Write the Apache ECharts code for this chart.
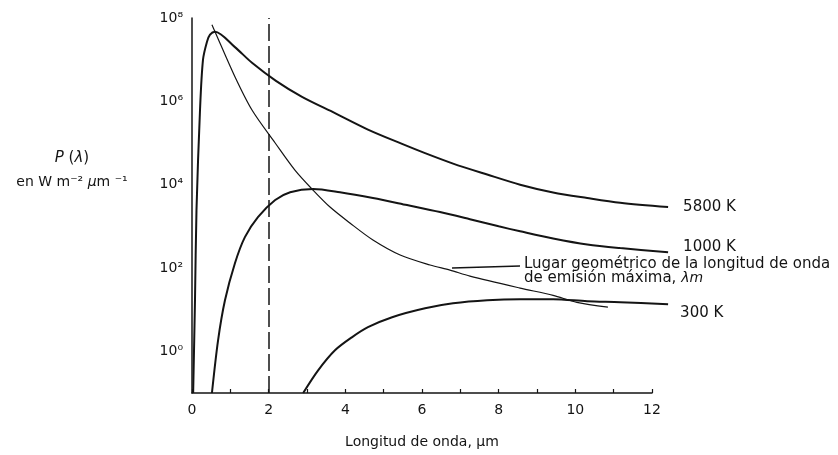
<!DOCTYPE html>
<html>
<head>
<meta charset="utf-8">
<script src="https://cdn.jsdelivr.net/npm/echarts@6/dist/echarts.min.js"></script>
<style>
  html, body { margin: 0; padding: 0; background: #fff; }
  #chart { width: 838px; height: 455px; }
</style>
</head>
<body>
<div id="chart"></div>
<script>
// longitud de onda (um) y P(lambda) en W m-2 um-1
const lam5800 = [0.03, 0.078, 0.117, 0.209, 0.287, 0.391, 0.47, 0.6, 1.12, 1.565, 2.19, 2.87, 3.73, 4.59, 5.48, 6.08, 6.81, 7.7, 8.56, 9.42, 10.31, 11.17, 12.42];
const p5800 = [0.1, 16.8, 2450, 6.2e5, 1.0e7, 2.7e7, 4.0e7, 4.7e7, 2.0e7, 8.4e6, 3.1e6, 1.28e6, 5.2e5, 2.1e5, 9.5e4, 5.7e4, 3.2e4, 1.75e4, 1.0e4, 6.5e3, 4.8e3, 3.7e3, 2.9e3];

const lam1000 = [0.52, 0.68, 0.86, 1.12, 1.38, 1.72, 2.17, 2.56, 3.16, 3.86, 4.72, 5.61, 6.47, 7.25, 8.0, 8.56, 9.42, 10.31, 11.17, 12.42];
const p1000 = [0.1, 1.84, 16.8, 130, 550, 1660, 4270, 6600, 7900, 6600, 4800, 3240, 2200, 1480, 1000, 760, 510, 365, 300, 240];

const lam300 = [2.9, 3.29, 3.73, 4.17, 4.59, 5.22, 6.08, 6.81, 7.7, 8.56, 9.42, 10.31, 11.17, 12.42];
const p300 = [0.1, 0.35, 1.06, 2.17, 3.8, 6.6, 10.8, 14.2, 16.8, 17.8, 17.8, 15.9, 15.1, 13.5];

// lugar geometrico del maximo de emision
const lamLocus = [0.52, 0.6, 1.12, 1.565, 2.17, 2.69, 3.157, 3.6, 4.12, 4.72, 5.43, 6.21, 6.73, 7.25, 8.56, 9.42, 10.04, 10.85];
const pLocus = [6.9e7, 4.7e7, 3.9e6, 6.2e5, 1.0e5, 2.2e4, 7400, 2900, 1200, 470, 205, 118, 89, 64, 33, 22, 15, 11.5];

const yTickLabels = { 0: "10⁰", 2: "10²", 4: "10⁴", 6: "10⁶", 8: "10⁸" };
const dashedAt = 2;

const ink = "#141414";
const font = "DejaVu Sans";

// el eje visible llega a 12, las curvas siguen un poco mas (hasta 12.5)
const plotLeft = 192;
const axisWidth = 460;
const xMax = 12;
const xMaxCurves = 12.5;
const curvesRight = 838 - plotLeft - (axisWidth / xMax) * xMaxCurves;

function pairs(xs, ys) {
  return xs.map((x, i) => [x, ys[i]]);
}

function curve(name, xs, ys, width, endLabel) {
  return {
    name: name,
    type: "line",
    xAxisIndex: 1,
    yAxisIndex: 1,
    smooth: 0.3,
    symbol: "none",
    lineStyle: { color: ink, width: width },
    data: pairs(xs, ys),
    endLabel: endLabel,
  };
}

let myChart = echarts.init(document.getElementById("chart"));

let s5800 = curve("5800 K", lam5800, p5800, 2, {
  show: true, formatter: "{a}", distance: 15, fontSize: 15, color: ink, fontFamily: font,
});
s5800.markLine = {
  silent: true,
  symbol: ["none", "none"],
  label: { show: false },
  lineStyle: { color: ink, width: 1.5, type: [17, 5] },
  data: [{ xAxis: dashedAt }],
};

myChart.setOption({
  animation: false,
  backgroundColor: "#fff",
  textStyle: { fontFamily: font, color: ink },
  grid: [
    { left: plotLeft, right: 838 - plotLeft - axisWidth, top: 18, bottom: 62 },
    { left: plotLeft, right: curvesRight, top: 18, bottom: 62 },
  ],
  xAxis: [
    {
      type: "value",
      gridIndex: 0,
      min: 0,
      max: xMax,
      interval: 2,
      name: "Longitud de onda, μm",
      nameLocation: "middle",
      nameGap: 42,
      nameTextStyle: { fontSize: 14, color: ink, fontFamily: font },
      axisLine: { lineStyle: { color: ink, width: 1.5 } },
      axisTick: { inside: true, length: 4, lineStyle: { color: ink, width: 1.2 } },
      minorTick: { show: true, splitNumber: 2, length: 4, lineStyle: { color: ink, width: 1.2 } },
      splitLine: { show: false },
      minorSplitLine: { show: false },
      axisLabel: { fontSize: 14, color: ink, margin: 10, fontFamily: font },
    },
    {
      type: "value",
      gridIndex: 1,
      min: 0,
      max: xMaxCurves,
      show: false,
    },
  ],
  yAxis: [
    {
      type: "log",
      gridIndex: 0,
      logBase: 10,
      min: 0.1,
      max: 1e8,
      splitNumber: 9,
      axisLine: { show: true, lineStyle: { color: ink, width: 1.5 } },
      axisTick: { show: false },
      splitLine: { show: false },
      axisLabel: {
        fontSize: 14,
        color: ink,
        margin: 9,
        fontFamily: font,
        formatter: (v) => {
          const n = Math.round(Math.log10(v));
          return yTickLabels[n] || "";
        },
      },
    },
    {
      type: "log",
      gridIndex: 1,
      logBase: 10,
      min: 0.1,
      max: 1e8,
      show: false,
    },
  ],
  series: [
    s5800,
    curve("1000 K", lam1000, p1000, 2, {
      show: true, formatter: "{a}", distance: 15, offset: [0, -5], fontSize: 15, color: ink, fontFamily: font,
    }),
    curve("300 K", lam300, p300, 2, {
      show: true, formatter: "{a}", distance: 12, offset: [0, 9], fontSize: 15, color: ink, fontFamily: font,
    }),
    curve("Lugar geométrico", lamLocus, pLocus, 1.2, { show: false }),
  ],
  graphic: [
    {
      type: "text",
      x: 72,
      y: 158,
      style: {
        text: "{i|P} ({i|λ})",
        font: "15px DejaVu Sans",
        fill: ink,
        align: "center",
        verticalAlign: "middle",
        rich: { i: { fontStyle: "italic", fontSize: 15, fontFamily: font } },
      },
    },
    {
      type: "text",
      x: 72,
      y: 182,
      style: {
        text: "en W m⁻² {i|μ}m ⁻¹",
        font: "14px DejaVu Sans",
        fill: ink,
        align: "center",
        verticalAlign: "middle",
        rich: { i: { fontStyle: "italic", fontSize: 14, fontFamily: font } },
      },
    },
    {
      type: "line",
      shape: { x1: 452, y1: 268, x2: 520, y2: 266 },
      style: { stroke: ink, lineWidth: 1.5 },
    },
    {
      type: "text",
      x: 524,
      y: 257,
      style: {
        text: "Lugar geométrico de la longitud de onda\nde emisión máxima, {i|λm}",
        font: "15px DejaVu Sans",
        fill: ink,
        align: "left",
        verticalAlign: "top",
        lineHeight: 14,
        rich: { i: { fontStyle: "italic", fontSize: 14, fontFamily: font, lineHeight: 14 } },
      },
    },
  ],
});
</script>
</body>
</html>
